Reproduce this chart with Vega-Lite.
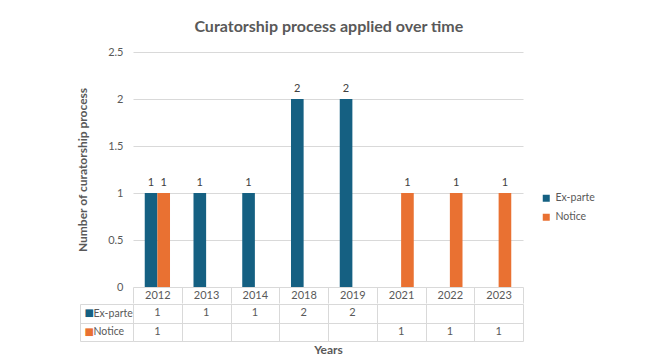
{
  "$schema": "https://vega.github.io/schema/vega-lite/v6.json",
  "padding": {"left": 76, "top": 19, "right": 5, "bottom": 0},
  "background": "white",
  "config": {
    "view": {"stroke": null},
    "font": "Lato",
    "axis": {"labelFont": "Lato", "titleFont": "Lato"}
  },
  "title": {
    "text": "Curatorship process applied over time",
    "fontSize": 16,
    "fontWeight": "bold",
    "font": "Lato",
    "color": "#595959",
    "anchor": "middle",
    "offset": 11,
    "dx": -7
  },
  "data": {
    "values": [
      {"year": "2012", "series": "Ex-parte", "value": 1},
      {"year": "2012", "series": "Notice", "value": 1},
      {"year": "2013", "series": "Ex-parte", "value": 1},
      {"year": "2014", "series": "Ex-parte", "value": 1},
      {"year": "2018", "series": "Ex-parte", "value": 2},
      {"year": "2019", "series": "Ex-parte", "value": 2},
      {"year": "2021", "series": "Notice", "value": 1},
      {"year": "2022", "series": "Notice", "value": 1},
      {"year": "2023", "series": "Notice", "value": 1}
    ]
  },
  "vconcat": [
    {
      "width": 390,
      "height": 235,
      "encoding": {
        "x": {
          "field": "year",
          "type": "ordinal",
          "scale": {"domain": ["2012", "2013", "2014", "2018", "2019", "2021", "2022", "2023"], "paddingInner": 0, "paddingOuter": 0},
          "axis": {
            "title": null,
            "orient": "bottom",
            "domain": false,
            "ticks": true,
            "tickBand": "extent",
            "tickSize": 16,
            "tickColor": "#d9d9d9",
            "labelPadding": -8,
            "labelBaseline": "middle",
            "labelAngle": 0,
            "labelColor": "#595959",
            "labelFontSize": 11,
            "grid": false
          }
        },
        "xOffset": {
          "field": "series",
          "type": "nominal",
          "scale": {"domain": ["Ex-parte", "Notice"], "paddingInner": 0, "paddingOuter": 0.93}
        },
        "y": {
          "field": "value",
          "type": "quantitative",
          "scale": {"domain": [0, 2.5]},
          "axis": {
            "values": [0, 0.5, 1, 1.5, 2, 2.5],
            "format": "~g",
            "title": "Number of curatorship process",
            "titleFontSize": 12,
            "titleFontWeight": "bold",
            "titleColor": "#595959",
            "titlePadding": 18,
            "domain": false,
            "ticks": false,
            "labelPadding": 10,
            "labelColor": "#595959",
            "labelFontSize": 11,
            "grid": true,
            "gridColor": "#d9d9d9"
          }
        }
      },
      "layer": [
        {
          "mark": {"type": "bar"},
          "encoding": {
            "color": {
              "field": "series",
              "type": "nominal",
              "scale": {"domain": ["Ex-parte", "Notice"], "range": ["#156082", "#E97132"]},
              "legend": {
                "title": null,
                "orient": "none",
                "legendX": 408,
                "legendY": 141,
                "padding": 0,
                "symbolType": "square",
                "symbolSize": 49,
                "symbolStrokeWidth": 0,
                "labelFontSize": 10.5,
                "labelColor": "#595959",
                "labelOffset": 4,
                "rowPadding": 8
              }
            }
          }
        },
        {
          "mark": {"type": "text", "baseline": "bottom", "dy": -5, "fontSize": 11, "color": "#404040"},
          "encoding": {"text": {"field": "value", "type": "quantitative"}}
        }
      ]
    },
    {
      "width": 390,
      "height": 37,
      "encoding": {
        "x": {
          "field": "year",
          "type": "ordinal",
          "scale": {"domain": ["2012", "2013", "2014", "2018", "2019", "2021", "2022", "2023"], "paddingInner": 0, "paddingOuter": 0},
          "axis": {
            "title": "Years",
            "titleFontSize": 12,
            "titleFontWeight": "bold",
            "titleColor": "#595959",
            "titlePadding": 3,
            "labels": false,
            "ticks": false,
            "domain": false,
            "grid": true,
            "tickBand": "extent",
            "gridColor": "#d9d9d9"
          }
        },
        "text": {"field": "value", "type": "quantitative"}
      },
      "layer": [
        {
          "mark": {"type": "text", "fontSize": 11, "color": "#595959"},
          "encoding": {
            "y": {
              "field": "series",
              "type": "nominal",
              "scale": {"domain": ["Ex-parte", "Notice"], "paddingInner": 0, "paddingOuter": 0},
              "axis": {
                "orient": "left",
                "title": null,
                "domain": false,
                "ticks": true,
                "tickBand": "extent",
                "tickSize": 53,
                "tickColor": "#d9d9d9",
                "labelAlign": "left",
                "labelPadding": -13,
                "labelColor": "#595959",
                "labelFontSize": 10.5,
                "grid": true,
                "gridColor": "#d9d9d9"
              }
            }
          }
        },
        {
          "mark": {"type": "text", "fontSize": 11, "opacity": 0},
          "encoding": {
            "y": {
              "field": "series",
              "type": "nominal",
              "scale": {"domain": ["Ex-parte", "Notice"], "paddingInner": 0, "paddingOuter": 0},
              "axis": {
                "orient": "left",
                "title": null,
                "offset": 53,
                "domain": true,
                "domainColor": "#d9d9d9",
                "ticks": false,
                "grid": false,
                "labelExpr": "'■'",
                "labelFont": "DejaVu Sans",
                "labelFontSize": 10,
                "labelAlign": "left",
                "labelPadding": -4,
                "labelColor": {"condition": {"test": "datum.value == 'Ex-parte'", "value": "#156082"}, "value": "#E97132"}
              }
            }
          }
        }
      ],
      "resolve": {"axis": {"y": "independent"}}
    }
  ],
  "spacing": -7
}
